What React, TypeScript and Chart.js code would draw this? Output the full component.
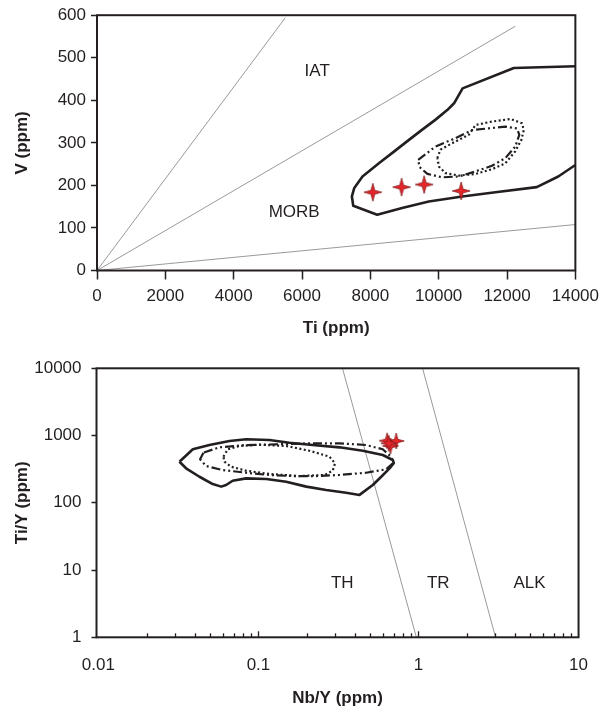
import React, { useEffect, useRef } from "react";
import { Chart, registerables } from "chart.js";

Chart.register(...registerables);

// ---------- Top chart data: Ti vs V (Shervais) ----------
const tiTicks = [0, 2000, 4000, 6000, 8000, 10000, 12000, 14000];
const vTicks = [0, 100, 200, 300, 400, 500, 600];

const ratioLine10: [number, number][] = [[0, 0], [5510, 594]];
const ratioLine20: [number, number][] = [[0, 0], [12240, 574]];
const ratioLine100: [number, number][] = [[0, 0], [14000, 108]];

const morbSolidTop: [number, number][] = [
  [14000, 480], [12200, 476], [10700, 428], [10450, 393], [10250, 377], [9900, 354],
  [9500, 330], [9130, 307], [8700, 280], [8250, 252], [7770, 221], [7530, 194],
  [7460, 174], [7500, 152], [8200, 131], [8930, 147], [9710, 162], [10690, 174],
  [11660, 184], [12870, 196], [13500, 221], [14000, 248],
];
const dashDotTop: [number, number][] = [
  [9400, 260], [9900, 291], [10490, 311], [10980, 330], [11460, 334], [11950, 338],
  [12290, 334], [12360, 319], [12240, 291], [11950, 264], [11560, 246], [11080, 233],
  [10590, 221], [10100, 219], [9670, 227], [9440, 243], [9400, 260],
];
const dottedTop: [number, number][] = [
  [9960, 264], [10050, 284], [10390, 299], [10880, 319], [11080, 342], [11560, 350],
  [12100, 356], [12440, 346], [12490, 330], [12420, 307], [12240, 280], [11950, 252],
  [11560, 238], [11080, 227], [10590, 223], [10200, 229], [10010, 244], [9960, 264],
];
const samplesTi = [8073, 8915, 9574, 10658];
const samplesV = [184, 196, 202, 187];

const topLabels = [
  { text: "IAT", x: 6444, y: 469 },
  { text: "MORB", x: 5770, y: 137 },
];

// ---------- Bottom chart data: Nb/Y vs Ti/Y ----------
const nbyTicks = [0.01, 0.1, 1, 10];
const tiyTicks = [1, 10, 100, 1000, 10000];

const boundaryThTr: [number, number][] = [[0.335, 10000], [0.97, 1]];
const boundaryTrAlk: [number, number][] = [[1.06, 10000], [3.03, 1]];

const solidBottom: [number, number][] = [
  [0.0321, 408], [0.0389, 625], [0.0494, 723], [0.0659, 829], [0.0838, 879], [0.117, 859],
  [0.156, 783], [0.218, 723], [0.321, 668], [0.449, 595], [0.598, 514], [0.691, 433],
  [0.701, 387], [0.659, 326], [0.585, 244], [0.518, 184], [0.428, 131], [0.353, 141],
  [0.265, 155], [0.199, 174], [0.149, 206], [0.112, 226], [0.0838, 231], [0.069, 213],
  [0.0628, 184], [0.0585, 174], [0.0518, 190], [0.0428, 244], [0.0353, 326], [0.0321, 408],
];
const dashDotBottom: [number, number][] = [
  [0.0453, 556], [0.0432, 443], [0.0471, 352], [0.0598, 307], [0.0838, 280], [0.117, 259],
  [0.164, 250], [0.229, 250], [0.321, 259], [0.471, 280], [0.628, 315], [0.691, 387],
  [0.675, 485], [0.598, 625], [0.471, 723], [0.321, 767], [0.208, 767], [0.129, 741],
  [0.0798, 716], [0.057, 668], [0.0453, 556],
];
const dottedBottom: [number, number][] = [
  [0.0604, 485], [0.0643, 625], [0.076, 700], [0.1015, 731], [0.149, 700], [0.208, 595],
  [0.278, 485], [0.301, 387], [0.291, 300], [0.259, 259], [0.18, 250], [0.117, 268],
  [0.0838, 300], [0.0675, 344], [0.0613, 408], [0.0604, 485],
];
const samplesNbY = [0.637, 0.726, 0.668, 0.652];
const samplesTiY = [838, 830, 700, 767];

const bottomLabels = [
  { text: "TH", x: 0.334, y: 6.35 },
  { text: "TR", x: 1.33, y: 6.35 },
  { text: "ALK", x: 4.94, y: 6.35 },
];

// ---------- styling ----------
const INK = "#231f20";
const GRAY = "#9a9a9a";
const FONT = "'Liberation Sans', Arial, Helvetica, sans-serif";

Chart.defaults.font.family = FONT;
Chart.defaults.color = INK;

function makeStar(r: number): HTMLCanvasElement {
  const c = document.createElement("canvas");
  const s = Math.ceil(r * 2 + 4);
  c.width = s;
  c.height = s;
  const ctx = c.getContext("2d")!;
  const cx = s / 2;
  const cy = s / 2;
  const inner = r * 0.3;
  ctx.beginPath();
  for (let i = 0; i < 8; i++) {
    const ang = -Math.PI / 2 + (i * Math.PI) / 4;
    const rad = i % 2 === 0 ? r : inner;
    const px = cx + rad * Math.cos(ang);
    const py = cy + rad * Math.sin(ang);
    if (i === 0) ctx.moveTo(px, py);
    else ctx.lineTo(px, py);
  }
  ctx.closePath();
  ctx.fillStyle = "#e5262a";
  ctx.fill();
  ctx.strokeStyle = "#7a1515";
  ctx.lineWidth = 0.7;
  ctx.stroke();
  return c;
}

const toPts = (arr: [number, number][]) => arr.map(([x, y]) => ({ x, y }));

function lineDs(arr: [number, number][], color: string, width: number, dash: number[], order: number) {
  return {
    data: toPts(arr),
    showLine: true,
    borderColor: color,
    borderWidth: width,
    borderDash: dash,
    borderJoinStyle: "round" as const,
    pointRadius: 0,
    fill: false,
    tension: 0,
    order,
  };
}

const boxPlugin = {
  id: "boxFrame",
  afterDatasetsDraw(chart: any) {
    const { ctx, chartArea: a } = chart;
    ctx.save();
    ctx.strokeStyle = INK;
    ctx.lineWidth = 2;
    ctx.strokeRect(a.left, a.top, a.right - a.left, a.bottom - a.top);
    ctx.restore();
  },
};

function labelPlugin(labels: { text: string; x: number; y: number }[]) {
  return {
    id: "fieldLabels",
    afterDatasetsDraw(chart: any) {
      const { ctx } = chart;
      const xs = chart.scales.x;
      const ys = chart.scales.y;
      ctx.save();
      ctx.fillStyle = INK;
      ctx.font = `17px ${FONT}`;
      ctx.textAlign = "center";
      ctx.textBaseline = "middle";
      labels.forEach((l) => {
        ctx.fillText(l.text, xs.getPixelForValue(l.x), ys.getPixelForValue(l.y));
      });
      ctx.restore();
    },
  };
}

const minorTickPlugin = {
  id: "logMinorTicks",
  afterDatasetsDraw(chart: any) {
    const { ctx, chartArea: a } = chart;
    const xs = chart.scales.x;
    ctx.save();
    ctx.strokeStyle = INK;
    ctx.lineWidth = 1.3;
    const decades = nbyTicks.slice(0, nbyTicks.length - 1);
    decades.forEach((d, i) => {
      for (let k = 2; k <= 9; k++) {
        const px = Math.round(xs.getPixelForValue(k * d)) + 0.5;
        ctx.beginPath();
        ctx.moveTo(px, a.bottom);
        ctx.lineTo(px, a.bottom - 4);
        ctx.stroke();
      }
      if (i > 0) {
        const px = Math.round(xs.getPixelForValue(d)) + 0.5;
        ctx.beginPath();
        ctx.moveTo(px, a.bottom);
        ctx.lineTo(px, a.bottom - 6);
        ctx.stroke();
      }
    });
    ctx.restore();
  },
};

export default function App() {
  const topRef = useRef<HTMLCanvasElement>(null);
  const botRef = useRef<HTMLCanvasElement>(null);

  useEffect(() => {
    const starTop = makeStar(9);
    const starBot = makeStar(8);

    const topChart = new Chart(topRef.current!, {
      type: "scatter",
      data: {
        datasets: [
          {
            data: samplesTi.map((x, i) => ({ x, y: samplesV[i] })),
            pointStyle: starTop as any,
            pointRadius: 9,
            showLine: false,
            order: 0,
          } as any,
          lineDs(morbSolidTop, INK, 2.6, [], 1),
          lineDs(dashDotTop, INK, 2.2, [9, 3, 2, 3, 2, 3], 2),
          lineDs(dottedTop, INK, 2.2, [2, 2.5], 3),
          lineDs(ratioLine10, GRAY, 1, [], 4),
          lineDs(ratioLine20, GRAY, 1, [], 4),
          lineDs(ratioLine100, GRAY, 1, [], 4),
        ],
      },
      options: {
        animation: false,
        responsive: false,
        events: [],
        layout: { padding: { left: 0, right: 27, top: 13.5, bottom: 0 } },
        plugins: { legend: { display: false }, tooltip: { enabled: false } },
        scales: {
          x: {
            type: "linear",
            min: tiTicks[0],
            max: tiTicks[tiTicks.length - 1],
            afterBuildTicks: (s: any) => {
              s.ticks = tiTicks.map((v) => ({ value: v }));
            },
            ticks: {
              color: INK,
              font: { size: 17 },
              padding: 7,
              maxRotation: 0,
              autoSkip: false,
              callback: (v: any) => String(v),
            },
            grid: { drawOnChartArea: false, drawTicks: true, tickLength: 9, tickColor: INK, tickWidth: 1.5 },
            border: { display: false },
            title: {
              display: true,
              text: "Ti (ppm)",
              color: INK,
              font: { size: 17, weight: "bold" },
              padding: { top: 0, bottom: 6.8 },
            },
            afterFit: (s: any) => {
              s.height = 74.5;
            },
          },
          y: {
            type: "linear",
            min: vTicks[0],
            max: vTicks[vTicks.length - 1],
            afterBuildTicks: (s: any) => {
              s.ticks = vTicks.map((v) => ({ value: v }));
            },
            ticks: {
              color: INK,
              font: { size: 17 },
              padding: 5,
              callback: (v: any) => String(v),
            },
            grid: { drawOnChartArea: false, drawTicks: true, tickLength: 6, tickColor: INK, tickWidth: 1.5 },
            border: { display: false },
            title: {
              display: true,
              text: "V (ppm)",
              color: INK,
              font: { size: 17, weight: "bold" },
              padding: { top: 12, bottom: 0 },
            },
            afterFit: (s: any) => {
              s.width = 97;
            },
          },
        },
      },
      plugins: [boxPlugin, labelPlugin(topLabels)],
    } as any);

    const botChart = new Chart(botRef.current!, {
      type: "scatter",
      data: {
        datasets: [
          {
            data: samplesNbY.map((x, i) => ({ x, y: samplesTiY[i] })),
            pointStyle: starBot as any,
            pointRadius: 8,
            showLine: false,
            order: 0,
          } as any,
          lineDs(solidBottom, INK, 2.6, [], 1),
          lineDs(dashDotBottom, INK, 2.2, [9, 3, 2, 3, 2, 3], 2),
          lineDs(dottedBottom, INK, 2.2, [2, 2.5], 3),
          lineDs(boundaryThTr, GRAY, 1, [], 4),
          lineDs(boundaryTrAlk, GRAY, 1, [], 4),
        ],
      },
      options: {
        animation: false,
        responsive: false,
        events: [],
        layout: { padding: { left: 0, right: 26, top: 23.3, bottom: 0 } },
        plugins: { legend: { display: false }, tooltip: { enabled: false } },
        scales: {
          x: {
            type: "logarithmic",
            min: 0.00973,
            max: 10,
            afterBuildTicks: (s: any) => {
              s.ticks = nbyTicks.map((v) => ({ value: v }));
            },
            ticks: {
              color: INK,
              font: { size: 17 },
              padding: 18,
              maxRotation: 0,
              autoSkip: false,
              callback: (v: any) => String(v),
            },
            grid: { display: false, drawTicks: false, tickLength: 0 },
            border: { display: false },
            title: {
              display: true,
              text: "Nb/Y (ppm)",
              color: INK,
              font: { size: 17, weight: "bold" },
              padding: { top: 0, bottom: 0 },
            },
            afterFit: (s: any) => {
              s.height = 71.7;
            },
          },
          y: {
            type: "logarithmic",
            min: tiyTicks[0],
            max: tiyTicks[tiyTicks.length - 1],
            afterBuildTicks: (s: any) => {
              s.ticks = tiyTicks.map((v) => ({ value: v }));
            },
            ticks: {
              color: INK,
              font: { size: 17 },
              padding: 10,
              callback: (v: any) => String(v),
            },
            grid: { drawOnChartArea: false, drawTicks: true, tickLength: 5, tickColor: INK, tickWidth: 1.5 },
            border: { display: false },
            title: {
              display: true,
              text: "Ti/Y (ppm)",
              color: INK,
              font: { size: 17, weight: "bold" },
              padding: { top: 12, bottom: 0 },
            },
            afterFit: (s: any) => {
              s.width = 96.5;
            },
          },
        },
      },
      plugins: [boxPlugin, minorTickPlugin, labelPlugin(bottomLabels)],
    } as any);

    return () => {
      topChart.destroy();
      botChart.destroy();
    };
  }, []);

  return (
    <div style={{ position: "fixed", left: 0, top: 0, width: 606, height: 709, background: "#fff" }}>
      <canvas
        ref={topRef}
        width={606}
        height={345}
        style={{ position: "absolute", left: 0, top: 0, width: 606, height: 345 }}
      />
      <canvas
        ref={botRef}
        width={606}
        height={364}
        style={{ position: "absolute", left: 0, top: 345, width: 606, height: 364 }}
      />
    </div>
  );
}
